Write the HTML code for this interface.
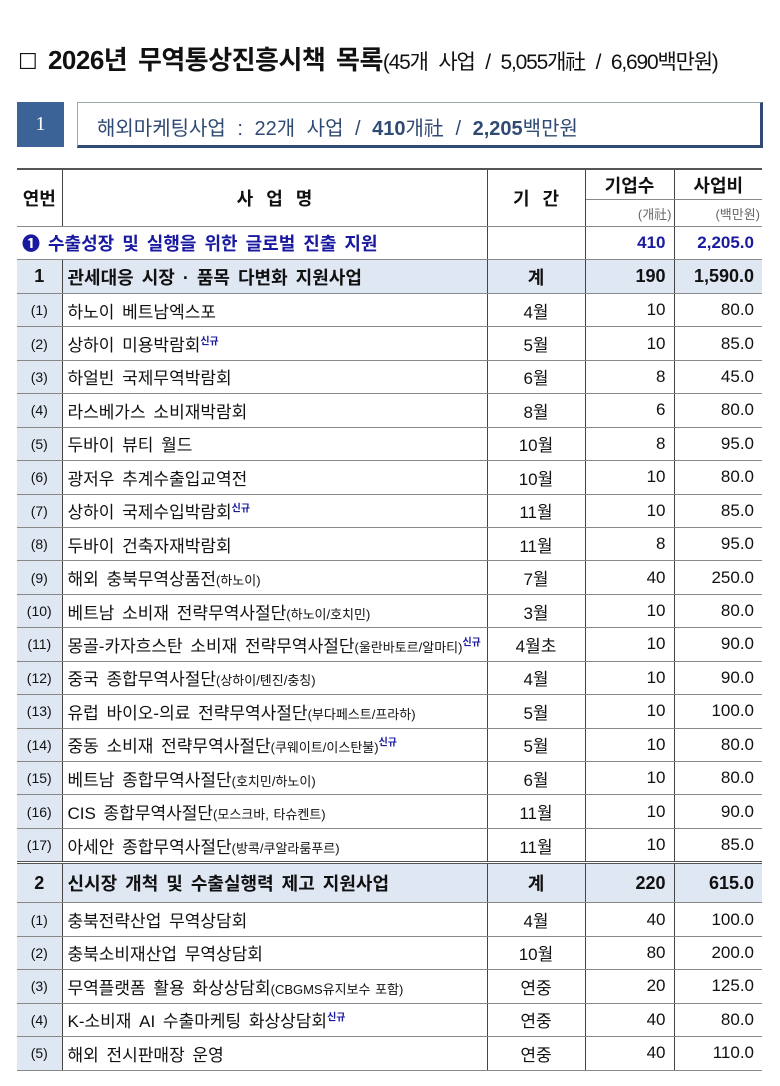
<!DOCTYPE html>
<html><head><meta charset="utf-8"><style>
body{margin:0;width:780px;height:1086px;background:#fff;font-family:"Liberation Sans","Noto Sans CJK KR",sans-serif;color:#111;position:relative;overflow:hidden}
.t{position:absolute;white-space:nowrap}
table{position:absolute;left:17px;top:168px;border-collapse:collapse;table-layout:fixed;width:745px;word-spacing:3px}
td{padding:0;border-top:1px solid #888;border-bottom:1px solid #888;border-left:1px solid #444;border-right:1px solid #444;font-size:17px;white-space:nowrap;overflow:hidden;vertical-align:middle}
td:first-child{border-left:none}
td:last-child{border-right:none}
tr.r td{height:32.45px}
.c{text-align:center}.rt{text-align:right;padding-right:8px}.l{padding-left:5px}
.n{background:#dfe7f3;text-align:center;font-size:14px}
.s{font-size:13px;word-spacing:1px}
sup{color:#1a1aa0;font-size:10px;font-weight:bold}
tr.g td{background:#dfe7f3;font-weight:bold;font-size:18px}
</style></head><body>
<div class="t" style="left:18px;top:40px;font-size:26px;font-weight:bold;letter-spacing:-0.5px;word-spacing:4px"><span style="font-weight:normal;font-size:22px">☐</span> 2026년 무역통상진흥시책 목록<span style="font-weight:normal;font-size:21px;letter-spacing:-1.2px;word-spacing:6px">(45개 사업 / 5,055개社 / 6,690백만원)</span></div>
<div style="position:absolute;left:17px;top:102px;width:47px;height:45px;background:#3b6397;color:#fff;font-family:'Liberation Serif',serif;font-size:20px;text-align:center;line-height:45px">1</div>
<div style="position:absolute;left:77px;top:102px;width:682px;height:42px;border:1px solid #9aa;border-right:3px solid #2f4a73;border-bottom:3px solid #2f4a73"></div>
<div class="t" style="left:97px;top:112px;font-size:20px;color:#2f4a73;word-spacing:6px">해외마케팅사업 : 22개 사업 / <b>410</b>개社 / <b>2,205</b>백만원</div>
<table>
<colgroup><col style="width:45px"><col style="width:425px"><col style="width:98px"><col style="width:89px"><col style="width:88px"></colgroup>
<tr style="border-top:2px solid #555"><td rowspan="2" class="c" style="font-weight:bold;font-size:18px;height:56px">연번</td><td rowspan="2" class="c" style="font-weight:bold;font-size:18px;word-spacing:8px">사 업 명</td><td rowspan="2" class="c" style="font-weight:bold;font-size:18px;word-spacing:8px">기 간</td><td class="c" style="font-weight:bold;font-size:18px;height:29px">기업수</td><td class="c" style="font-weight:bold;font-size:18px">사업비</td></tr>
<tr><td class="rt s" style="color:#666;height:26px;padding-right:2px">(개社)</td><td class="rt s" style="color:#666;padding-right:2px">(백만원)</td></tr>
<tr class="r" style="color:#1a1aa0;font-weight:bold"><td colspan="2" class="l" style="font-size:18px">❶ 수출성장 및 실행을 위한 글로벌 진출 지원</td><td></td><td class="rt">410</td><td class="rt">2,205.0</td></tr>
<tr class="r g"><td class="c">1</td><td class="l">관세대응 시장 · 품목 다변화 지원사업</td><td class="c">계</td><td class="rt">190</td><td class="rt">1,590.0</td></tr>
<tr class="r"><td class="n">(1)</td><td class="l">하노이 베트남엑스포</td><td class="c">4월</td><td class="rt">10</td><td class="rt">80.0</td></tr>
<tr class="r"><td class="n">(2)</td><td class="l">상하이 미용박람회<sup>신규</sup></td><td class="c">5월</td><td class="rt">10</td><td class="rt">85.0</td></tr>
<tr class="r"><td class="n">(3)</td><td class="l">하얼빈 국제무역박람회</td><td class="c">6월</td><td class="rt">8</td><td class="rt">45.0</td></tr>
<tr class="r"><td class="n">(4)</td><td class="l">라스베가스 소비재박람회</td><td class="c">8월</td><td class="rt">6</td><td class="rt">80.0</td></tr>
<tr class="r"><td class="n">(5)</td><td class="l">두바이 뷰티 월드</td><td class="c">10월</td><td class="rt">8</td><td class="rt">95.0</td></tr>
<tr class="r"><td class="n">(6)</td><td class="l">광저우 추계수출입교역전</td><td class="c">10월</td><td class="rt">10</td><td class="rt">80.0</td></tr>
<tr class="r"><td class="n">(7)</td><td class="l">상하이 국제수입박람회<sup>신규</sup></td><td class="c">11월</td><td class="rt">10</td><td class="rt">85.0</td></tr>
<tr class="r"><td class="n">(8)</td><td class="l">두바이 건축자재박람회</td><td class="c">11월</td><td class="rt">8</td><td class="rt">95.0</td></tr>
<tr class="r"><td class="n">(9)</td><td class="l">해외 충북무역상품전<span class="s">(하노이)</span></td><td class="c">7월</td><td class="rt">40</td><td class="rt">250.0</td></tr>
<tr class="r"><td class="n">(10)</td><td class="l">베트남 소비재 전략무역사절단<span class="s">(하노이/호치민)</span></td><td class="c">3월</td><td class="rt">10</td><td class="rt">80.0</td></tr>
<tr class="r"><td class="n">(11)</td><td class="l">몽골-카자흐스탄 소비재 전략무역사절단<span class="s">(울란바토르/알마티)</span><sup>신규</sup></td><td class="c">4월초</td><td class="rt">10</td><td class="rt">90.0</td></tr>
<tr class="r"><td class="n">(12)</td><td class="l">중국 종합무역사절단<span class="s">(상하이/톈진/충칭)</span></td><td class="c">4월</td><td class="rt">10</td><td class="rt">90.0</td></tr>
<tr class="r"><td class="n">(13)</td><td class="l">유럽 바이오-의료 전략무역사절단<span class="s">(부다페스트/프라하)</span></td><td class="c">5월</td><td class="rt">10</td><td class="rt">100.0</td></tr>
<tr class="r"><td class="n">(14)</td><td class="l">중동 소비재 전략무역사절단<span class="s">(쿠웨이트/이스탄불)</span><sup>신규</sup></td><td class="c">5월</td><td class="rt">10</td><td class="rt">80.0</td></tr>
<tr class="r"><td class="n">(15)</td><td class="l">베트남 종합무역사절단<span class="s">(호치민/하노이)</span></td><td class="c">6월</td><td class="rt">10</td><td class="rt">80.0</td></tr>
<tr class="r"><td class="n">(16)</td><td class="l">CIS 종합무역사절단<span class="s">(모스크바, 타슈켄트)</span></td><td class="c">11월</td><td class="rt">10</td><td class="rt">90.0</td></tr>
<tr class="r"><td class="n">(17)</td><td class="l">아세안 종합무역사절단<span class="s">(방콕/쿠알라룸푸르)</span></td><td class="c">11월</td><td class="rt">10</td><td class="rt">85.0</td></tr>
<tr class="g" style="border-top:3px double #555"><td class="c" style="height:38px">2</td><td class="l">신시장 개척 및 수출실행력 제고 지원사업</td><td class="c">계</td><td class="rt">220</td><td class="rt">615.0</td></tr>
<tr class="r"><td class="n">(1)</td><td class="l">충북전략산업 무역상담회</td><td class="c">4월</td><td class="rt">40</td><td class="rt">100.0</td></tr>
<tr class="r"><td class="n">(2)</td><td class="l">충북소비재산업 무역상담회</td><td class="c">10월</td><td class="rt">80</td><td class="rt">200.0</td></tr>
<tr class="r"><td class="n">(3)</td><td class="l">무역플랫폼 활용 화상상담회<span class="s">(CBGMS유지보수 포함)</span></td><td class="c">연중</td><td class="rt">20</td><td class="rt">125.0</td></tr>
<tr class="r"><td class="n">(4)</td><td class="l">K-소비재 AI 수출마케팅 화상상담회<sup>신규</sup></td><td class="c">연중</td><td class="rt">40</td><td class="rt">80.0</td></tr>
<tr class="r"><td class="n">(5)</td><td class="l">해외 전시판매장 운영</td><td class="c">연중</td><td class="rt">40</td><td class="rt">110.0</td></tr>
</table>
</body></html>
